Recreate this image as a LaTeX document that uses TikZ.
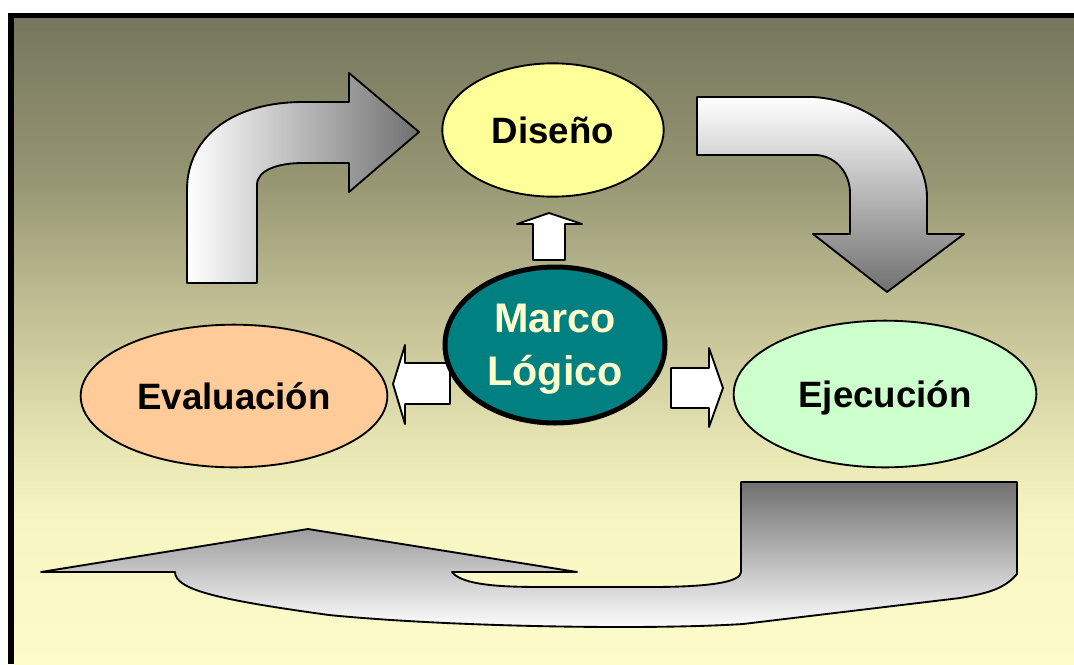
\documentclass[tikz,border=0pt]{standalone}
\usepackage{fontspec}
\setmainfont{Liberation Sans}
\usetikzlibrary{shapes.geometric}
\definecolor{bgA}{RGB}{253,251,202}
\definecolor{bgB}{RGB}{247,245,193}
\definecolor{bgC}{RGB}{232,230,180}
\definecolor{bgD}{RGB}{190,188,145}
\definecolor{bgE}{RGB}{150,150,115}
\definecolor{bgF}{RGB}{118,118,93}
\definecolor{disfill}{RGB}{255,255,153}
\definecolor{evafill}{RGB}{255,204,153}
\definecolor{ejefill}{RGB}{204,255,204}
\definecolor{teal}{RGB}{0,128,128}
\definecolor{mltext}{RGB}{255,255,204}
\definecolor{arrgray}{RGB}{112,112,112}
\pgfdeclareverticalshading{bgshade}{100bp}{color(0bp)=(bgA); color(25bp)=(bgA); color(36.1bp)=(bgB); color(41.6bp)=(bgC); color(53.2bp)=(bgD); color(62.5bp)=(bgE); color(75bp)=(bgF); color(100bp)=(bgF)}
\tikzset{
  blockarrow/.style={draw=black, line width=1.4pt, line join=round},
  smallarrow/.style={blockarrow, fill=white},
  phase/.style={ellipse, draw=black, line width=1.4pt, inner sep=0pt,
    text height=19.8pt, text depth=0pt,
    font=\bfseries\fontsize{27.5}{33}\selectfont},
  centre/.style={ellipse, draw=black, line width=3.75pt, inner sep=0pt, fill=teal,
    text=mltext, align=center, text depth=0pt, font=\bfseries\fontsize{31}{40}\selectfont}
}
\begin{document}
\begin{tikzpicture}[x=0.75pt, y=-0.75pt]
\useasboundingbox (0,0) rectangle (1074,664);
% frame and background
\fill[black] (8,13) rectangle (1074,664);
\fill[shading=bgshade] (14,18) rectangle (1074,664);

% big arrow: Evaluacion -> Diseno
\path[blockarrow, left color=white, right color=arrgray]
  (187,283) -- (187,190) .. controls (187,135) and (235,102) .. (303,102)
  -- (349,102) -- (349,73) -- (419,132) -- (349,192) -- (349,163)
  -- (303,163) .. controls (278,163) and (257,170) .. (257,185) -- (257,283) -- cycle;

% big arrow: Diseno -> Ejecucion
\path[blockarrow, top color=white, bottom color=arrgray]
  (697,97) -- (813,97) .. controls (873,100) and (927,150) .. (927,197)
  -- (927,234) -- (964,234) -- (887,292) -- (813,234) -- (850,234)
  -- (850,193) .. controls (850,175) and (838,157) .. (817,155) -- (697,155) -- cycle;

% big arrow: Ejecucion -> Evaluacion
\path[blockarrow, top color=arrgray, bottom color=white]
  (308,529) -- (577,572) -- (452,572) .. controls (462,585) and (500,587) .. (541,587)
  -- (651,587) .. controls (710,587) and (741,582) .. (741,572) -- (741,482)
  -- (1017,482) -- (1017,574) .. controls (1005,588) and (990,593) .. (960,598)
  -- (743,624) .. controls (650,630) and (450,627) .. (329,615)
  .. controls (220,600) and (175,590) .. (175,572) -- (41,572) -- cycle;

% small arrows from Marco Logico
\path[smallarrow] (533,260) -- (533,224) -- (517,224) -- (549,213) -- (582,224)
  -- (565,224) -- (565,260) -- cycle;
\path[smallarrow] (450,363) -- (405,363) -- (405,345) -- (393,384) -- (405,424)
  -- (405,404) -- (450,404) -- cycle;
\path[smallarrow] (671,368) -- (709,368) -- (709,348) -- (723,388) -- (709,427)
  -- (709,408) -- (671,408) -- cycle;

% ellipses
\node[phase, fill=disfill, minimum width=166pt, minimum height=100pt] (dis) at (553,130) {Diseño};
\node[phase, fill=evafill, minimum width=230pt, minimum height=107pt] (eva) at (234,396) {Evaluación};
\node[phase, fill=ejefill, minimum width=227pt, minimum height=110pt] (eje) at (885,394) {Ejecución};
\node[centre, minimum width=165pt, minimum height=117pt] (ml) at (555,345) {Marco\\Lógico};
\end{tikzpicture}
\end{document}
